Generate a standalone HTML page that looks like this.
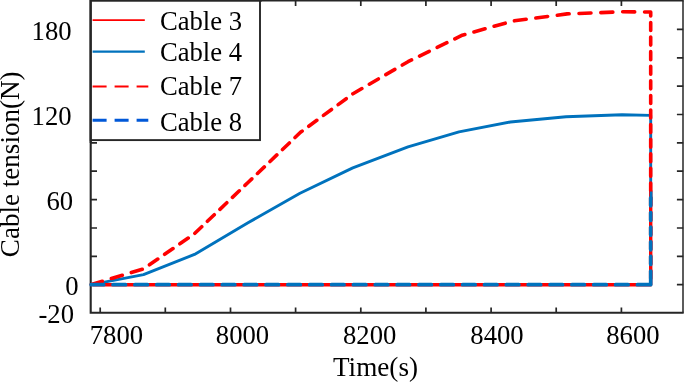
<!DOCTYPE html>
<html><head><meta charset="utf-8"><title>Cable tension</title>
<style>
html,body{margin:0;padding:0;background:#fff;}
svg{display:block;}
text{font-family:"Liberation Serif","Times New Roman",serif;font-size:26.67px;fill:#000;}
</style></head><body>
<svg width="685" height="382" viewBox="0 0 685 382">
<rect x="0" y="0" width="685" height="382" fill="#fff"/>

<path d="M683.0,0.5 V312.8" fill="none" stroke="#262626" stroke-width="1.5"/>
<path d="M683.7,0.5 H90.7 V312.8 H683.7" fill="none" stroke="#262626" stroke-width="2.1" stroke-linejoin="miter"/>
<path d="M100.2,312.8 V307.6 M100.2,0.5 V6.1 M165.3,312.8 V307.6 M165.3,0.5 V6.1 M230.5,312.8 V307.6 M230.5,0.5 V6.1 M295.6,312.8 V307.6 M295.6,0.5 V6.1 M360.8,312.8 V307.6 M360.8,0.5 V6.1 M425.9,312.8 V307.6 M425.9,0.5 V6.1 M491.1,312.8 V307.6 M491.1,0.5 V6.1 M556.2,312.8 V307.6 M556.2,0.5 V6.1 M621.4,312.8 V307.6 M621.4,0.5 V6.1 M90.7,284.7 H97.0 M683.2,284.7 H676.9000000000001 M90.7,256.3 H97.0 M683.2,256.3 H676.9000000000001 M90.7,228.0 H97.0 M683.2,228.0 H676.9000000000001 M90.7,199.6 H97.0 M683.2,199.6 H676.9000000000001 M90.7,171.2 H97.0 M683.2,171.2 H676.9000000000001 M90.7,142.9 H97.0 M683.2,142.9 H676.9000000000001 M90.7,114.5 H97.0 M683.2,114.5 H676.9000000000001 M90.7,86.2 H97.0 M683.2,86.2 H676.9000000000001 M90.7,57.8 H97.0 M683.2,57.8 H676.9000000000001 M90.7,29.4 H97.0 M683.2,29.4 H676.9000000000001" fill="none" stroke="#262626" stroke-width="1.7"/>
<polyline points="91.4,284.6 143.5,274.6 194.5,254.4 248.0,222.8 300.0,193.2 352.8,167.9 408.0,146.9 459.0,131.8 510.4,122.0 566.0,116.8 622.0,114.7 650.7,115.4 650.7,205.0" fill="none" stroke="#0072bd" stroke-width="2.9" stroke-linejoin="round" stroke-linecap="round"/>
<path d="M91.40,284.50 L102.35,281.22 M111.36,278.52 L122.31,275.25 M131.32,272.55 L142.27,269.27 M149.43,264.81 L157.77,259.06 M164.64,254.33 L172.99,248.58 M179.86,243.85 L188.20,238.10 M194.88,233.26 L201.75,226.70 M207.40,221.30 L214.27,214.73 M219.92,209.33 L226.79,202.77 M232.44,197.37 L239.31,190.81 M244.96,185.41 L248.00,182.50 L251.82,178.84 M257.47,173.44 L264.34,166.88 M269.99,161.47 L276.85,154.91 M282.50,149.51 L289.37,142.95 M295.02,137.54 L300.50,132.30 L302.12,131.11 M308.76,126.23 L316.82,120.30 M323.46,115.42 L331.52,109.50 M338.15,104.62 L346.21,98.69 M352.85,93.81 L353.00,93.70 L361.87,88.54 M369.32,84.21 L378.36,78.95 M385.80,74.61 L394.84,69.35 M402.29,65.02 L408.00,61.70 L411.57,59.96 M419.54,56.07 L429.22,51.34 M437.19,47.45 L446.88,42.73 M454.85,38.84 L462.30,35.20 L464.85,34.49 M473.96,31.93 L485.02,28.84 M494.13,26.28 L505.19,23.19 M514.39,20.82 L526.16,19.27 M535.85,18.00 L547.63,16.45 M557.32,15.17 L567.00,13.90 L569.13,13.82 M579.00,13.44 L590.98,12.98 M600.84,12.61 L612.82,12.15 M622.69,11.80 L634.69,11.89 M644.57,11.96 L650.70,12.00 L650.70,15.91 M650.70,22.50 L650.70,30.50 M650.70,37.08 L650.70,45.08 M650.70,51.67 L650.70,59.67 M650.70,66.26 L650.70,74.26 M650.70,80.85 L650.70,88.85 M650.70,95.43 L650.70,103.43 M650.70,110.02 L650.70,118.02 M650.70,124.61 L650.70,132.61 M650.70,139.19 L650.70,147.19 M650.70,153.78 L650.70,161.78 M650.70,168.37 L650.70,176.37 M650.70,182.95 L650.70,190.95 M650.70,197.54 L650.70,205.54 M650.70,212.13 L650.70,220.13 M650.70,226.72 L650.70,234.72 M650.70,241.30 L650.70,249.30 M650.70,255.89 L650.70,263.89 M650.70,270.48 L650.70,278.48" fill="none" stroke="#ff0000" stroke-width="3.6" stroke-linejoin="round" stroke-linecap="round"/>
<polyline points="93.2,284.7 650.7,284.7 650.7,191.0" fill="none" stroke="#ff0000" stroke-width="3.4" stroke-linecap="round" stroke-linejoin="round"/>
<path d="M651.1,191.5 V200" fill="none" stroke="#0072bd" stroke-width="2.7"/>
<path d="M91.15,284.7 L103.75,284.7 M113.00,284.7 L125.60,284.7 M134.85,284.7 L147.45,284.7 M156.70,284.7 L169.30,284.7 M178.55,284.7 L191.15,284.7 M200.40,284.7 L213.00,284.7 M222.25,284.7 L234.85,284.7 M244.10,284.7 L256.70,284.7 M265.95,284.7 L278.55,284.7 M287.80,284.7 L300.40,284.7 M309.65,284.7 L322.25,284.7 M331.50,284.7 L344.10,284.7 M353.35,284.7 L365.95,284.7 M375.20,284.7 L387.80,284.7 M397.05,284.7 L409.65,284.7 M418.90,284.7 L431.50,284.7 M440.75,284.7 L453.35,284.7 M462.60,284.7 L475.20,284.7 M484.45,284.7 L497.05,284.7 M506.30,284.7 L518.90,284.7 M528.15,284.7 L540.75,284.7 M550.00,284.7 L562.60,284.7 M571.85,284.7 L584.45,284.7 M593.70,284.7 L606.30,284.7 M615.55,284.7 L628.15,284.7 M637.40,284.7 L650.7,284.7 L650.7,271.1 M650.7,197.85 L650.7,205.85 M650.7,212.50 L650.7,220.50 M650.7,227.15 L650.7,235.15 M650.7,241.80 L650.7,249.80 M650.7,256.45 L650.7,264.45" fill="none" stroke="#0072bd" stroke-width="3.7" stroke-linejoin="round" stroke-linecap="round"/>
<text transform="translate(71.6,40.0) scale(1,1.03)" text-anchor="end">180</text>
<text transform="translate(71.6,125.0) scale(1,1.03)" text-anchor="end">120</text>
<text transform="translate(73.1,210.0) scale(1,1.03)" text-anchor="end">60</text>
<text transform="translate(78.7,294.9) scale(1,1.03)" text-anchor="end">0</text>
<text transform="translate(74.0,322.8) scale(1,1.03)" text-anchor="end">-20</text>
<text transform="translate(116.4,344.4) scale(1,1.03)" text-anchor="middle">7800</text>
<text transform="translate(242.5,344.4) scale(1,1.03)" text-anchor="middle">8000</text>
<text transform="translate(369.7,344.4) scale(1,1.03)" text-anchor="middle">8200</text>
<text transform="translate(497.0,344.4) scale(1,1.03)" text-anchor="middle">8400</text>
<text transform="translate(632.9,344.4) scale(1,1.03)" text-anchor="middle">8600</text>
<text transform="translate(375.5,376.4) scale(1.019,1.03)" text-anchor="middle">Time(s)</text>
<text transform="translate(19.4,164.3) rotate(-90) scale(1.016,1.03)" text-anchor="middle">Cable tension(N)</text>
<rect x="90.7" y="0.5" width="169.3" height="139.6" fill="#fff" stroke="#262626" stroke-width="1.9"/>
<path d="M90.7,143 V0.5 H262" fill="none" stroke="#262626" stroke-width="2.1"/>
<line x1="92.6" y1="20.1" x2="144.8" y2="20.1" stroke="#ff0000" stroke-width="1.7"/>
<text transform="translate(159.9,29.5) scale(1,1.03)" text-anchor="start">Cable 3</text>
<line x1="92.6" y1="51.6" x2="144.8" y2="51.6" stroke="#0072bd" stroke-width="2.3"/>
<text transform="translate(159.9,61.1) scale(1,1.03)" text-anchor="start">Cable 4</text>
<line x1="92.6" y1="86.5" x2="148.3" y2="86.5" stroke="#ff0000" stroke-width="2.0" stroke-dasharray="14 8"/>
<text transform="translate(159.9,94.9) scale(1,1.03)" text-anchor="start">Cable 7</text>
<line x1="92.6" y1="120.2" x2="148.3" y2="120.2" stroke="#0058d8" stroke-width="2.9" stroke-dasharray="14 8"/>
<text transform="translate(159.9,131.3) scale(1,1.03)" text-anchor="start">Cable 8</text>
</svg></body></html>
